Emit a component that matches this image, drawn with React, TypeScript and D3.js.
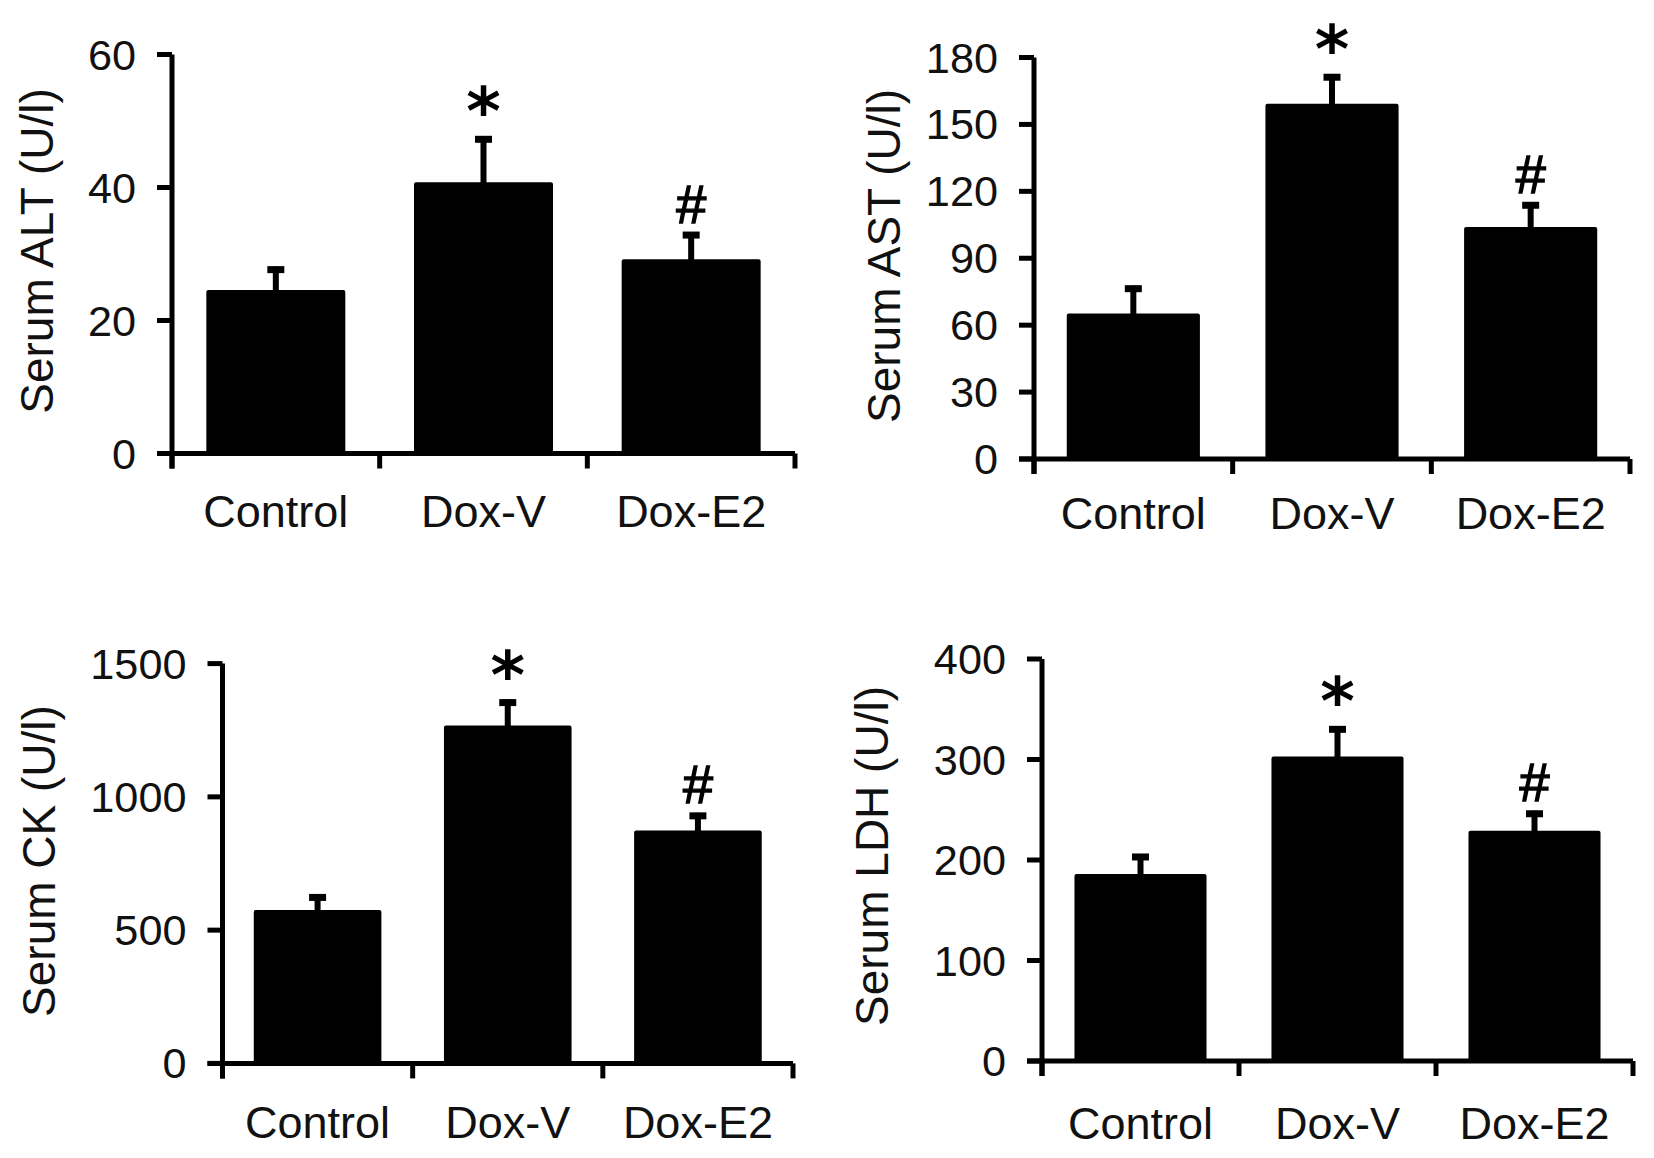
import React from 'react';
import * as d3 from 'd3';

// groups on the x axis
const categories = ['Control', 'Dox-V', 'Dox-E2'];
const marks = ['', '*', '#'];

// serum values (mean) and error (SEM)
const altMeans = [24.3, 40.5, 28.9];
const altSem = [3.8, 7.2, 4.4];
const astMeans = [64.3, 158.4, 103.1];
const astSem = [13.4, 14.1, 12.0];
const ckMeans = [568, 1260, 866];
const ckSem = [66, 105, 74];
const ldhMeans = [184, 301, 227];
const ldhSem = [22, 32, 22];

// y tick labels
const altTicks = [0, 20, 40, 60];
const astTicks = [0, 30, 60, 90, 120, 150, 180];
const ckTicks = [0, 500, 1000, 1500];
const ldhTicks = [0, 100, 200, 300, 400];

const FONT = 'Arial, "Liberation Sans", Helvetica, sans-serif';

type PanelProps = {
  title: string;
  means: number[];
  sem: number[];
  ticks: number[];
  left: number;
  right: number;
  top: number;
  zero: number;
  titleX: number;
  titleY: number;
  labelDy: number;
};

function Panel({ title, means, sem, ticks, left, right, top, zero, titleX, titleY, labelDy }: PanelProps) {
  const yMax = ticks[ticks.length - 1];
  const y = d3.scaleLinear().domain([0, yMax]).range([zero, top]);
  const x = d3.scaleBand().domain(categories).range([left, right]).padding(0);
  const step = x.step();
  const barW = step * 0.65;
  const boundaries = [left, ...categories.slice(1).map((c) => x(c) as number), right];

  return (
    <g>
      {/* bars + error bars */}
      {categories.map((c, i) => {
        const cx = (x(c) as number) + step / 2;
        const yTop = y(means[i]);
        const yErr = y(means[i] + sem[i]);
        return (
          <g key={c}>
            <line x1={cx} x2={cx} y1={yTop} y2={yErr} stroke="#000" strokeWidth={6} />
            <line x1={cx - 8.5} x2={cx + 8.5} y1={yErr + 3} y2={yErr + 3} stroke="#000" strokeWidth={7} />
            <rect
              x={cx - barW / 2}
              y={yTop}
              width={barW}
              height={zero - yTop}
              fill="#000"
              stroke="#000"
              strokeWidth={4}
              strokeLinejoin="round"
            />
            {marks[i] === '*' && (
              <text
                x={cx}
                y={yErr - 39 + 37}
                fontFamily='"DejaVu Sans", sans-serif'
                fontWeight="bold"
                fontSize={66}
                textAnchor="middle"
              >
                *
              </text>
            )}
            {marks[i] === '#' && (
              <text
                x={cx}
                y={yErr - 29 + 19.5}
                fontFamily={FONT}
                fontSize={54}
                textAnchor="middle"
                stroke="#000"
                strokeWidth={1.4}
              >
                #
              </text>
            )}
            <text x={cx} y={zero + labelDy} fontFamily={FONT} fontSize={45} textAnchor="middle" fill="#111">
              {c}
            </text>
          </g>
        );
      })}

      {/* axes */}
      <line x1={left} x2={left} y1={top} y2={zero + 15} stroke="#000" strokeWidth={5} />
      <line x1={left - 15} x2={right} y1={zero} y2={zero} stroke="#000" strokeWidth={5} />
      {boundaries.map((b, i) => (
        <line key={i} x1={b} x2={b} y1={zero} y2={zero + 15} stroke="#000" strokeWidth={5} />
      ))}
      {ticks.map((t) => (
        <g key={t}>
          <line x1={left - 15} x2={left} y1={y(t)} y2={y(t)} stroke="#000" strokeWidth={5} />
          <text
            transform={`translate(${left - 36},${y(t) + 15}) scale(1.03,1)`}
            fontFamily={FONT}
            fontSize={42}
            textAnchor="end"
            fill="#111"
          >
            {t}
          </text>
        </g>
      ))}

      <text
        transform={`translate(${titleX},${titleY}) rotate(-90)`}
        fontFamily={FONT}
        fontSize={46}
        textAnchor="middle"
        fill="#111"
      >
        {title}
      </text>
    </g>
  );
}

export default function App() {
  return (
    <svg
      width={1654}
      height={1158}
      viewBox="0 0 1654 1158"
      style={{ position: 'absolute', left: 0, top: 0, background: '#fff' }}
    >
      <rect width={1654} height={1158} fill="#fff" />
      <Panel
        title="Serum ALT (U/l)"
        means={altMeans}
        sem={altSem}
        ticks={altTicks}
        left={172}
        right={795}
        top={54.5}
        zero={453.5}
        titleX={53}
        titleY={251}
        labelDy={73}
      />
      <Panel
        title="Serum AST (U/l)"
        means={astMeans}
        sem={astSem}
        ticks={astTicks}
        left={1034}
        right={1630}
        top={57.5}
        zero={459}
        titleX={900}
        titleY={256}
        labelDy={70}
      />
      <Panel
        title="Serum CK (U/l)"
        means={ckMeans}
        sem={ckSem}
        ticks={ckTicks}
        left={222.5}
        right={793}
        top={663.6}
        zero={1063.4}
        titleX={55}
        titleY={861}
        labelDy={75}
      />
      <Panel
        title="Serum LDH (U/l)"
        means={ldhMeans}
        sem={ldhSem}
        ticks={ldhTicks}
        left={1042}
        right={1633}
        top={659}
        zero={1061}
        titleX={888}
        titleY={856}
        labelDy={78}
      />
    </svg>
  );
}
